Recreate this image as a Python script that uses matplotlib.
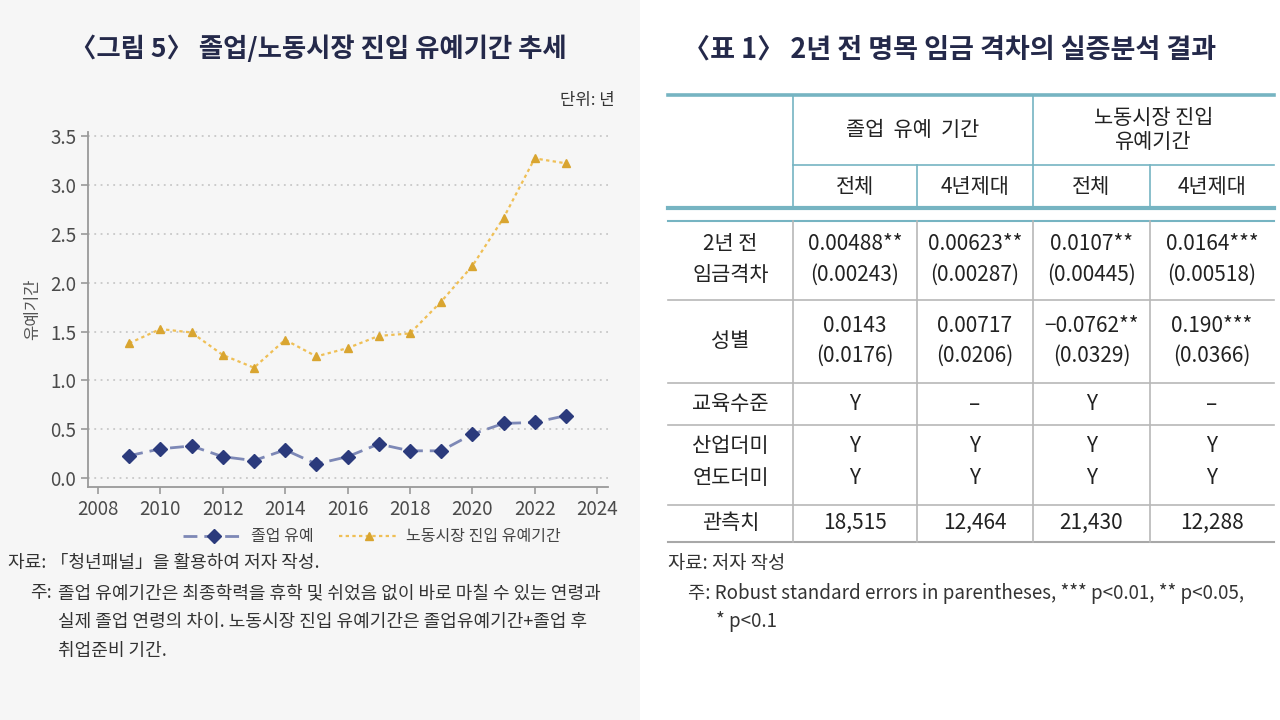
import matplotlib
matplotlib.use('Agg')
import matplotlib.pyplot as plt
from matplotlib.patches import Rectangle

plt.rcParams['font.family'] = ['Noto Sans CJK KR', 'DejaVu Sans']

# ---------------- data ----------------
years = list(range(2009, 2024))
grad_delay = [0.23, 0.30, 0.33, 0.22, 0.18, 0.29, 0.145, 0.22, 0.35, 0.28, 0.28, 0.45, 0.56, 0.57, 0.64]
labor_delay = [1.38, 1.525, 1.49, 1.26, 1.13, 1.415, 1.245, 1.33, 1.455, 1.48, 1.805, 2.17, 2.66, 3.27, 3.22]
series_names = ['졸업 유예', '노동시장 진입 유예기간']
x_ticks = [2008, 2010, 2012, 2014, 2016, 2018, 2020, 2022, 2024]
y_ticks = [0.0, 0.5, 1.0, 1.5, 2.0, 2.5, 3.0, 3.5]

group_headers = ['졸업  유예  기간', '노동시장 진입\n유예기간']
sub_headers = ['전체', '4년제대', '전체', '4년제대']
wage_coef = ['0.00488**', '0.00623**', '0.0107**', '0.0164***']
wage_se = ['(0.00243)', '(0.00287)', '(0.00445)', '(0.00518)']
gender_coef = ['0.0143', '0.00717', '\u22120.0762**', '0.190***']
gender_se = ['(0.0176)', '(0.0206)', '(0.0329)', '(0.0366)']
edu_ctrl = ['Y', '\u2013', 'Y', '\u2013']
ind_dummy = ['Y', 'Y', 'Y', 'Y']
year_dummy = ['Y', 'Y', 'Y', 'Y']
n_obs = ['18,515', '12,464', '21,430', '12,288']

# ---------------- figure ----------------
fig = plt.figure(figsize=(12.8, 7.2), dpi=100)
fig.patch.set_facecolor('white')

# overlay axes in pixel coordinates (for panel background, table)
bg = fig.add_axes([0, 0, 1, 1])
bg.set_xlim(0, 1280)
bg.set_ylim(720, 0)
bg.axis('off')
bg.add_patch(Rectangle((0, 0), 640, 720, facecolor='#f6f6f6', edgecolor='none', zorder=0))

navy = '#24294a'
gray_txt = '#555555'

# ---------------- left chart ----------------
W, H = 1280, 720
L, R, T, B = 88, 608, 132, 487
ax = fig.add_axes([L / W, 1 - B / H, (R - L) / W, (B - T) / H])
ax.set_facecolor('none')
ax.set_xlim(2007.68, 2024.35)
ax.set_ylim(-0.09, 3.54)

for yv in y_ticks:
    ax.axhline(yv, color='#c8c8c8', lw=1.3, ls=(0, (1, 2.5)), zorder=1)

ax.plot(years, grad_delay, color='#7d88b6', lw=2.0, ls=(0, (5, 2.5)),
        marker='D', ms=7.5, mfc='#2b3a7c', mec='#2b3a7c', zorder=3, label=series_names[0])
ax.plot(years, labor_delay, color='#efbf55', lw=1.6, ls=(0, (1.5, 1.5)),
        marker='^', ms=6, mfc='#d9a530', mec='#d9a530', zorder=3, label=series_names[1])

ax.set_xticks(x_ticks)
ax.set_yticks(y_ticks)
ax.set_yticklabels([f'{v:.1f}' for v in y_ticks])
for s in ['top', 'right']:
    ax.spines[s].set_visible(False)
for s in ['left', 'bottom']:
    ax.spines[s].set_color('#9a9a9a')
    ax.spines[s].set_linewidth(1.3)
ax.tick_params(axis='both', colors='#9a9a9a', labelcolor='#4a4a4a', labelsize=13.5,
               length=5, width=1.2, direction='out')
ax.set_ylabel('유예기간', fontsize=12, color=gray_txt, labelpad=6)

fig.legend(loc='center', bbox_to_anchor=(372 / W, 1 - 537 / H), ncol=2, frameon=False,
           fontsize=11.5, handlelength=3.8, columnspacing=1.6, handletextpad=0.4,
           labelcolor='#444444')

fig.text(318 / W, 1 - 49 / H, '〈그림 5〉 졸업/노동시장 진입 유예기간 추세', ha='center', va='center',
         fontsize=19, fontweight='bold', color=navy)
fig.text(615 / W, 1 - 100 / H, '단위: 년', ha='right', va='center', fontsize=12, color='#333333')

note_kw = dict(fontsize=13, color='#333333', va='center')
fig.text(8 / W, 1 - 563 / H, '자료: 「청년패널」을 활용하여 저자 작성.', ha='left', **note_kw)
fig.text(30 / W, 1 - 593 / H, '주:', ha='left', **note_kw)
fig.text(58 / W, 1 - 593 / H, '졸업 유예기간은 최종학력을 휴학 및 쉬었음 없이 바로 마칠 수 있는 연령과',
         ha='left', **note_kw)
fig.text(58 / W, 1 - 622 / H, '실제 졸업 연령의 차이. 노동시장 진입 유예기간은 졸업유예기간+졸업 후',
         ha='left', **note_kw)
fig.text(58 / W, 1 - 651 / H, '취업준비 기간.', ha='left', **note_kw)

# ---------------- right table ----------------
fig.text(950 / W, 1 - 50 / H, '〈표 1〉 2년 전 명목 임금 격차의 실증분석 결과', ha='center', va='center',
         fontsize=19.5, fontweight='bold', color=navy)

teal = '#76b4c2'
lgray = '#b8b8b8'
x0, c1, c2, c3, c4, x1 = 668, 793, 917, 1033, 1150, 1274
cols = [c1, c2, c3, c4, x1]
col_centers = [(cols[i] + cols[i + 1]) / 2 for i in range(4)]

# header lines
bg.plot([x0, x1], [95, 95], color=teal, lw=2.6)
bg.plot([c1, x1], [165, 165], color=teal, lw=1.2)
bg.plot([x0, x1], [208, 208], color=teal, lw=3.0)
bg.plot([x0, x1], [221, 221], color=teal, lw=1.5)
for cx in [c1, c3]:
    bg.plot([cx, cx], [95, 208], color=teal, lw=1.2)
for cx in [c2, c4]:
    bg.plot([cx, cx], [165, 208], color=teal, lw=1.2)
# body lines
for yy in [300, 383, 425, 505]:
    bg.plot([x0, x1], [yy, yy], color=lgray, lw=1.2)
bg.plot([x0, x1], [542, 542], color='#a8a8a8', lw=1.5)
for cx in [c1, c2, c3, c4]:
    bg.plot([cx, cx], [221, 542], color=lgray, lw=1.2)

tkw = dict(ha='center', va='center', fontsize=15, color='#222222')
bg.text((c1 + c3) / 2, 130, group_headers[0], **tkw)
bg.text((c3 + x1) / 2, 130, group_headers[1], linespacing=1.15, **tkw)
for cx, t in zip(col_centers, sub_headers):
    bg.text(cx, 187, t, **tkw)

label_x = (x0 + c1) / 2
bg.text(label_x, 244, '2년 전', **tkw)
bg.text(label_x, 275, '임금격차', **tkw)
bg.text(label_x, 341, '성별', **tkw)
bg.text(label_x, 404, '교육수준', **tkw)
bg.text(label_x, 446, '산업더미', **tkw)
bg.text(label_x, 478, '연도더미', **tkw)
bg.text(label_x, 523, '관측치', **tkw)

for i, cx in enumerate(col_centers):
    bg.text(cx, 244, wage_coef[i], fontweight='medium', **tkw)
    bg.text(cx, 275, wage_se[i], **tkw)
    bg.text(cx, 326, gender_coef[i], **tkw)
    bg.text(cx, 356, gender_se[i], **tkw)
    bg.text(cx, 404, edu_ctrl[i], **tkw)
    bg.text(cx, 446, ind_dummy[i], **tkw)
    bg.text(cx, 478, year_dummy[i], **tkw)
    bg.text(cx, 523, n_obs[i], **tkw)

nkw = dict(fontsize=13.5, color='#333333', va='center', ha='left')
bg.text(668, 563, '자료: 저자 작성', **nkw)
bg.text(688, 593, '주: Robust standard errors in parentheses, *** p<0.01, ** p<0.05,', **nkw)
bg.text(716, 622, '* p<0.1', **nkw)

fig.savefig('out.png', dpi=100)
